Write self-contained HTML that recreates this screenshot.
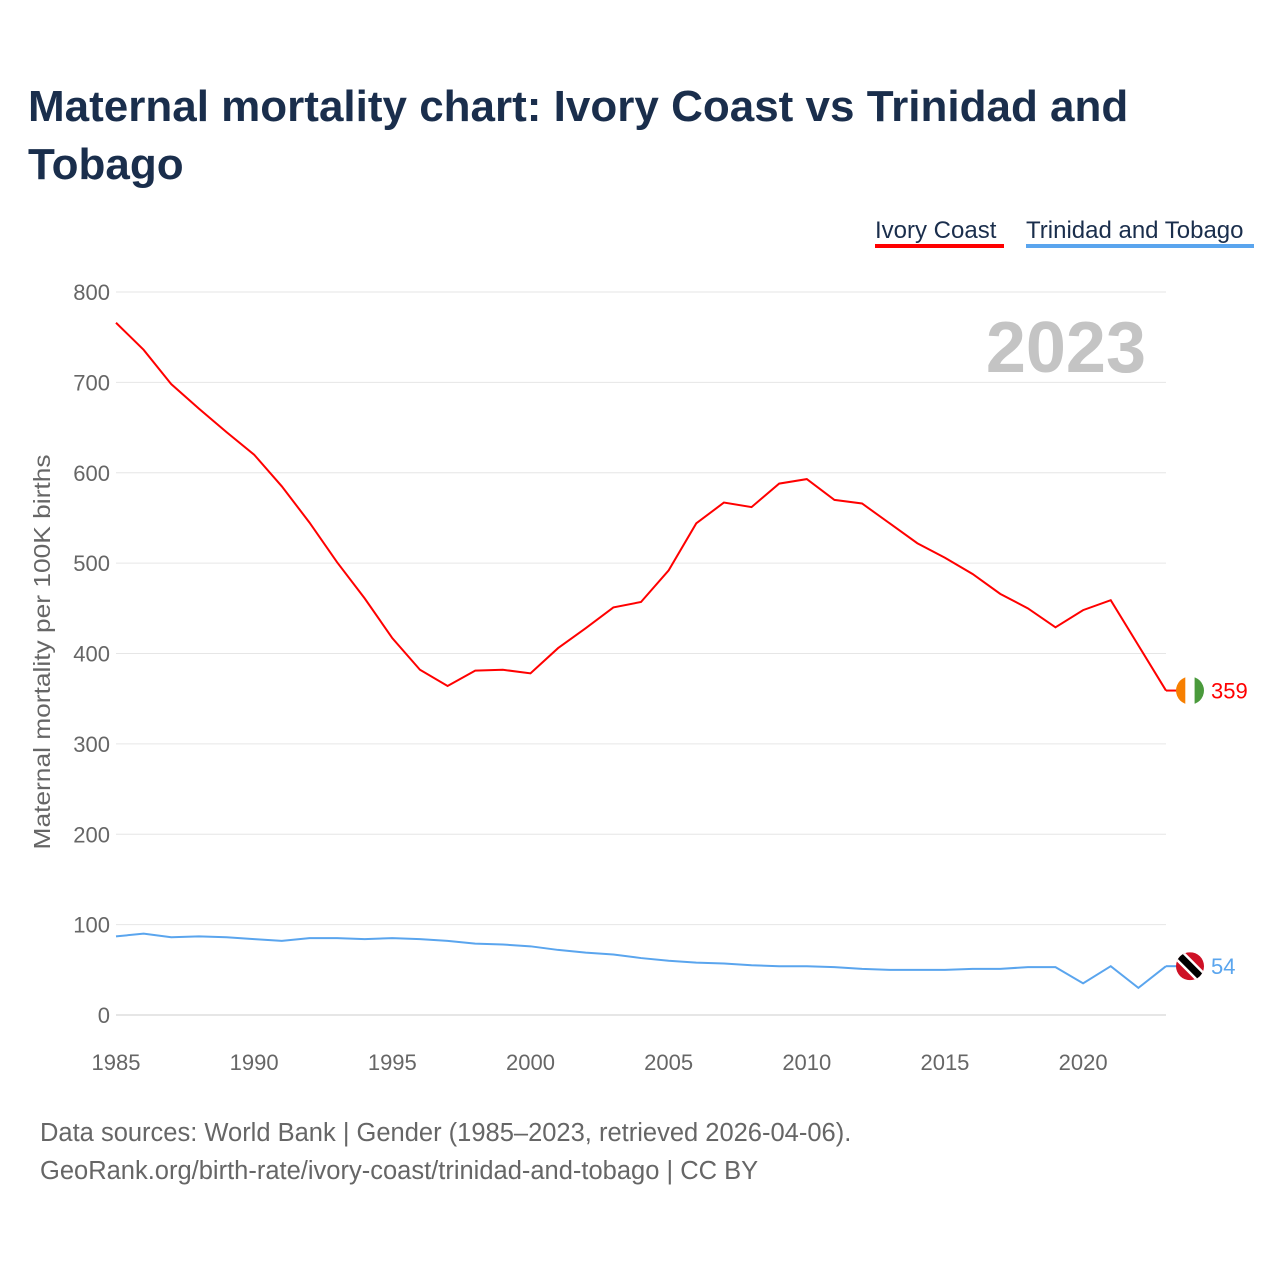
<!DOCTYPE html>
<html><head><meta charset="utf-8"><style>
body{margin:0;background:#fff;width:1280px;height:1280px;overflow:hidden;font-family:"Liberation Sans",sans-serif}
#title{position:absolute;left:28px;top:78px;width:1200px;font-size:44px;font-weight:bold;color:#1a2e4c;line-height:58px;margin:0}
.src{position:absolute;left:40px;font-size:25.5px;color:#666}
</style></head><body>
<h1 id="title">Maternal mortality chart: Ivory Coast vs Trinidad and Tobago</h1>
<svg id="chart" width="1280" height="1280" style="position:absolute;left:0;top:0"></svg>
<div class="src" style="top:1119px">Data sources: World Bank | Gender (1985–2023, retrieved 2026-04-06).</div>
<div class="src" style="top:1157px">GeoRank.org/birth-rate/ivory-coast/trinidad-and-tobago | CC BY</div>
<script>
const years=[1985,1986,1987,1988,1989,1990,1991,1992,1993,1994,1995,1996,1997,1998,1999,2000,2001,2002,2003,2004,2005,2006,2007,2008,2009,2010,2011,2012,2013,2014,2015,2016,2017,2018,2019,2020,2021,2022,2023];
const ivoryCoast=[766,736,698,671,645,620,585,545,501,461,417,382,364,381,382,378,406,428,451,457,492,544,567,562,588,593,570,566,544,522,506,488,466,450,429,448,459,409,359];
const trinidad=[87,90,86,87,86,84,82,85,85,84,85,84,82,79,78,76,72,69,67,63,60,58,57,55,54,54,53,51,50,50,50,51,51,53,53,35,54,30,54];
const yTicks=[0,100,200,300,400,500,600,700,800];
const xTicks=[1985,1990,1995,2000,2005,2010,2015,2020];
const NS="http://www.w3.org/2000/svg";
const svg=document.getElementById('chart');
const X=y=>116+(y-1985)*(1166-116)/38;
const Y=v=>1015-v*(1015-292)/800;
function mk(t,a,txt){const e=document.createElementNS(NS,t);for(const k in a)e.setAttribute(k,a[k]);if(txt!=null)e.textContent=txt;svg.appendChild(e);return e;}
yTicks.forEach(v=>{
 const l=mk('line',{x1:116,x2:1166,y1:Y(v),y2:Y(v),stroke:v===0?'#ccc':'#e6e6e6','stroke-width':1});
 
 
 const t=mk('text',{x:110,y:Y(v)+8,'text-anchor':'end','font-size':22,fill:'#666'},v);
 
 
});
xTicks.forEach(v=>{
 const t=mk('text',{x:X(v),y:1070,'text-anchor':'middle','font-size':22,fill:'#666'},v);
 
 
});
const yt=mk('text',{x:0,y:0,transform:'translate(50,652) rotate(-90)','text-anchor':'middle','font-size':23,fill:'#666',textLength:395,lengthAdjust:'spacingAndGlyphs'},'Maternal mortality per 100K births');


const yr=mk('text',{x:1146,y:372,'text-anchor':'end','font-size':72,'font-weight':'bold',fill:'#c4c4c4'},'2023');


function series(vals,color,name){
 const p=mk('polyline',{points:vals.map((v,i)=>X(years[i])+','+Y(v)).join(' '),fill:'none',stroke:color,'stroke-width':2});
 
 
 const last=vals[vals.length-1];
 mk('line',{x1:1166,x2:1178,y1:Y(last),y2:Y(last),stroke:color,'stroke-width':2});
 const t=mk('text',{x:1211,y:Y(last)+8,'font-size':22,fill:color},last);
 
 
 return Y(last);
}
const yi=series(ivoryCoast,'#ff0000','ivory-coast');
const yt2=series(trinidad,'#5aa5ee','trinidad');
const defs=mk('defs',{});
const cp=document.createElementNS(NS,'clipPath');cp.setAttribute('id','c1');defs.appendChild(cp);
const cc=document.createElementNS(NS,'circle');cc.setAttribute('cx',1190);cc.setAttribute('cy',yi);cc.setAttribute('r',14);cp.appendChild(cc);
const g=mk('g',{'clip-path':'url(#c1)'});
[['#f77f00',1176],['#fff',1185.3],['#4a9a3c',1194.6]].forEach(([c,x])=>{const r=document.createElementNS(NS,'rect');r.setAttribute('x',x);r.setAttribute('y',yi-14);r.setAttribute('width',9.5);r.setAttribute('height',28);r.setAttribute('fill',c);g.appendChild(r);});
const cp2=document.createElementNS(NS,'clipPath');cp2.setAttribute('id','c2');defs.appendChild(cp2);
const cc2=document.createElementNS(NS,'circle');cc2.setAttribute('cx',1190);cc2.setAttribute('cy',yt2);cc2.setAttribute('r',14);cp2.appendChild(cc2);
const g2=mk('g',{'clip-path':'url(#c2)'});
const bg=document.createElementNS(NS,'rect');bg.setAttribute('x',1176);bg.setAttribute('y',yt2-14);bg.setAttribute('width',28);bg.setAttribute('height',28);bg.setAttribute('fill','#ce1126');g2.appendChild(bg);
[['#fff',12],['#000',7]].forEach(([c,w])=>{const l=document.createElementNS(NS,'line');l.setAttribute('x1',1176);l.setAttribute('y1',yt2-14);l.setAttribute('x2',1204);l.setAttribute('y2',yt2+14);l.setAttribute('stroke',c);l.setAttribute('stroke-width',w);g2.appendChild(l);});
const l1=mk('text',{x:875,y:238,'font-size':24,fill:'#1a2e4c'},'Ivory Coast');


mk('rect',{x:875,y:244,width:129,height:4,fill:'#ff0000'});
const l2=mk('text',{x:1026,y:238,'font-size':24,fill:'#1a2e4c'},'Trinidad and Tobago');


mk('rect',{x:1026,y:244,width:228,height:4,fill:'#5aa5ee'});
</script>
</body></html>
